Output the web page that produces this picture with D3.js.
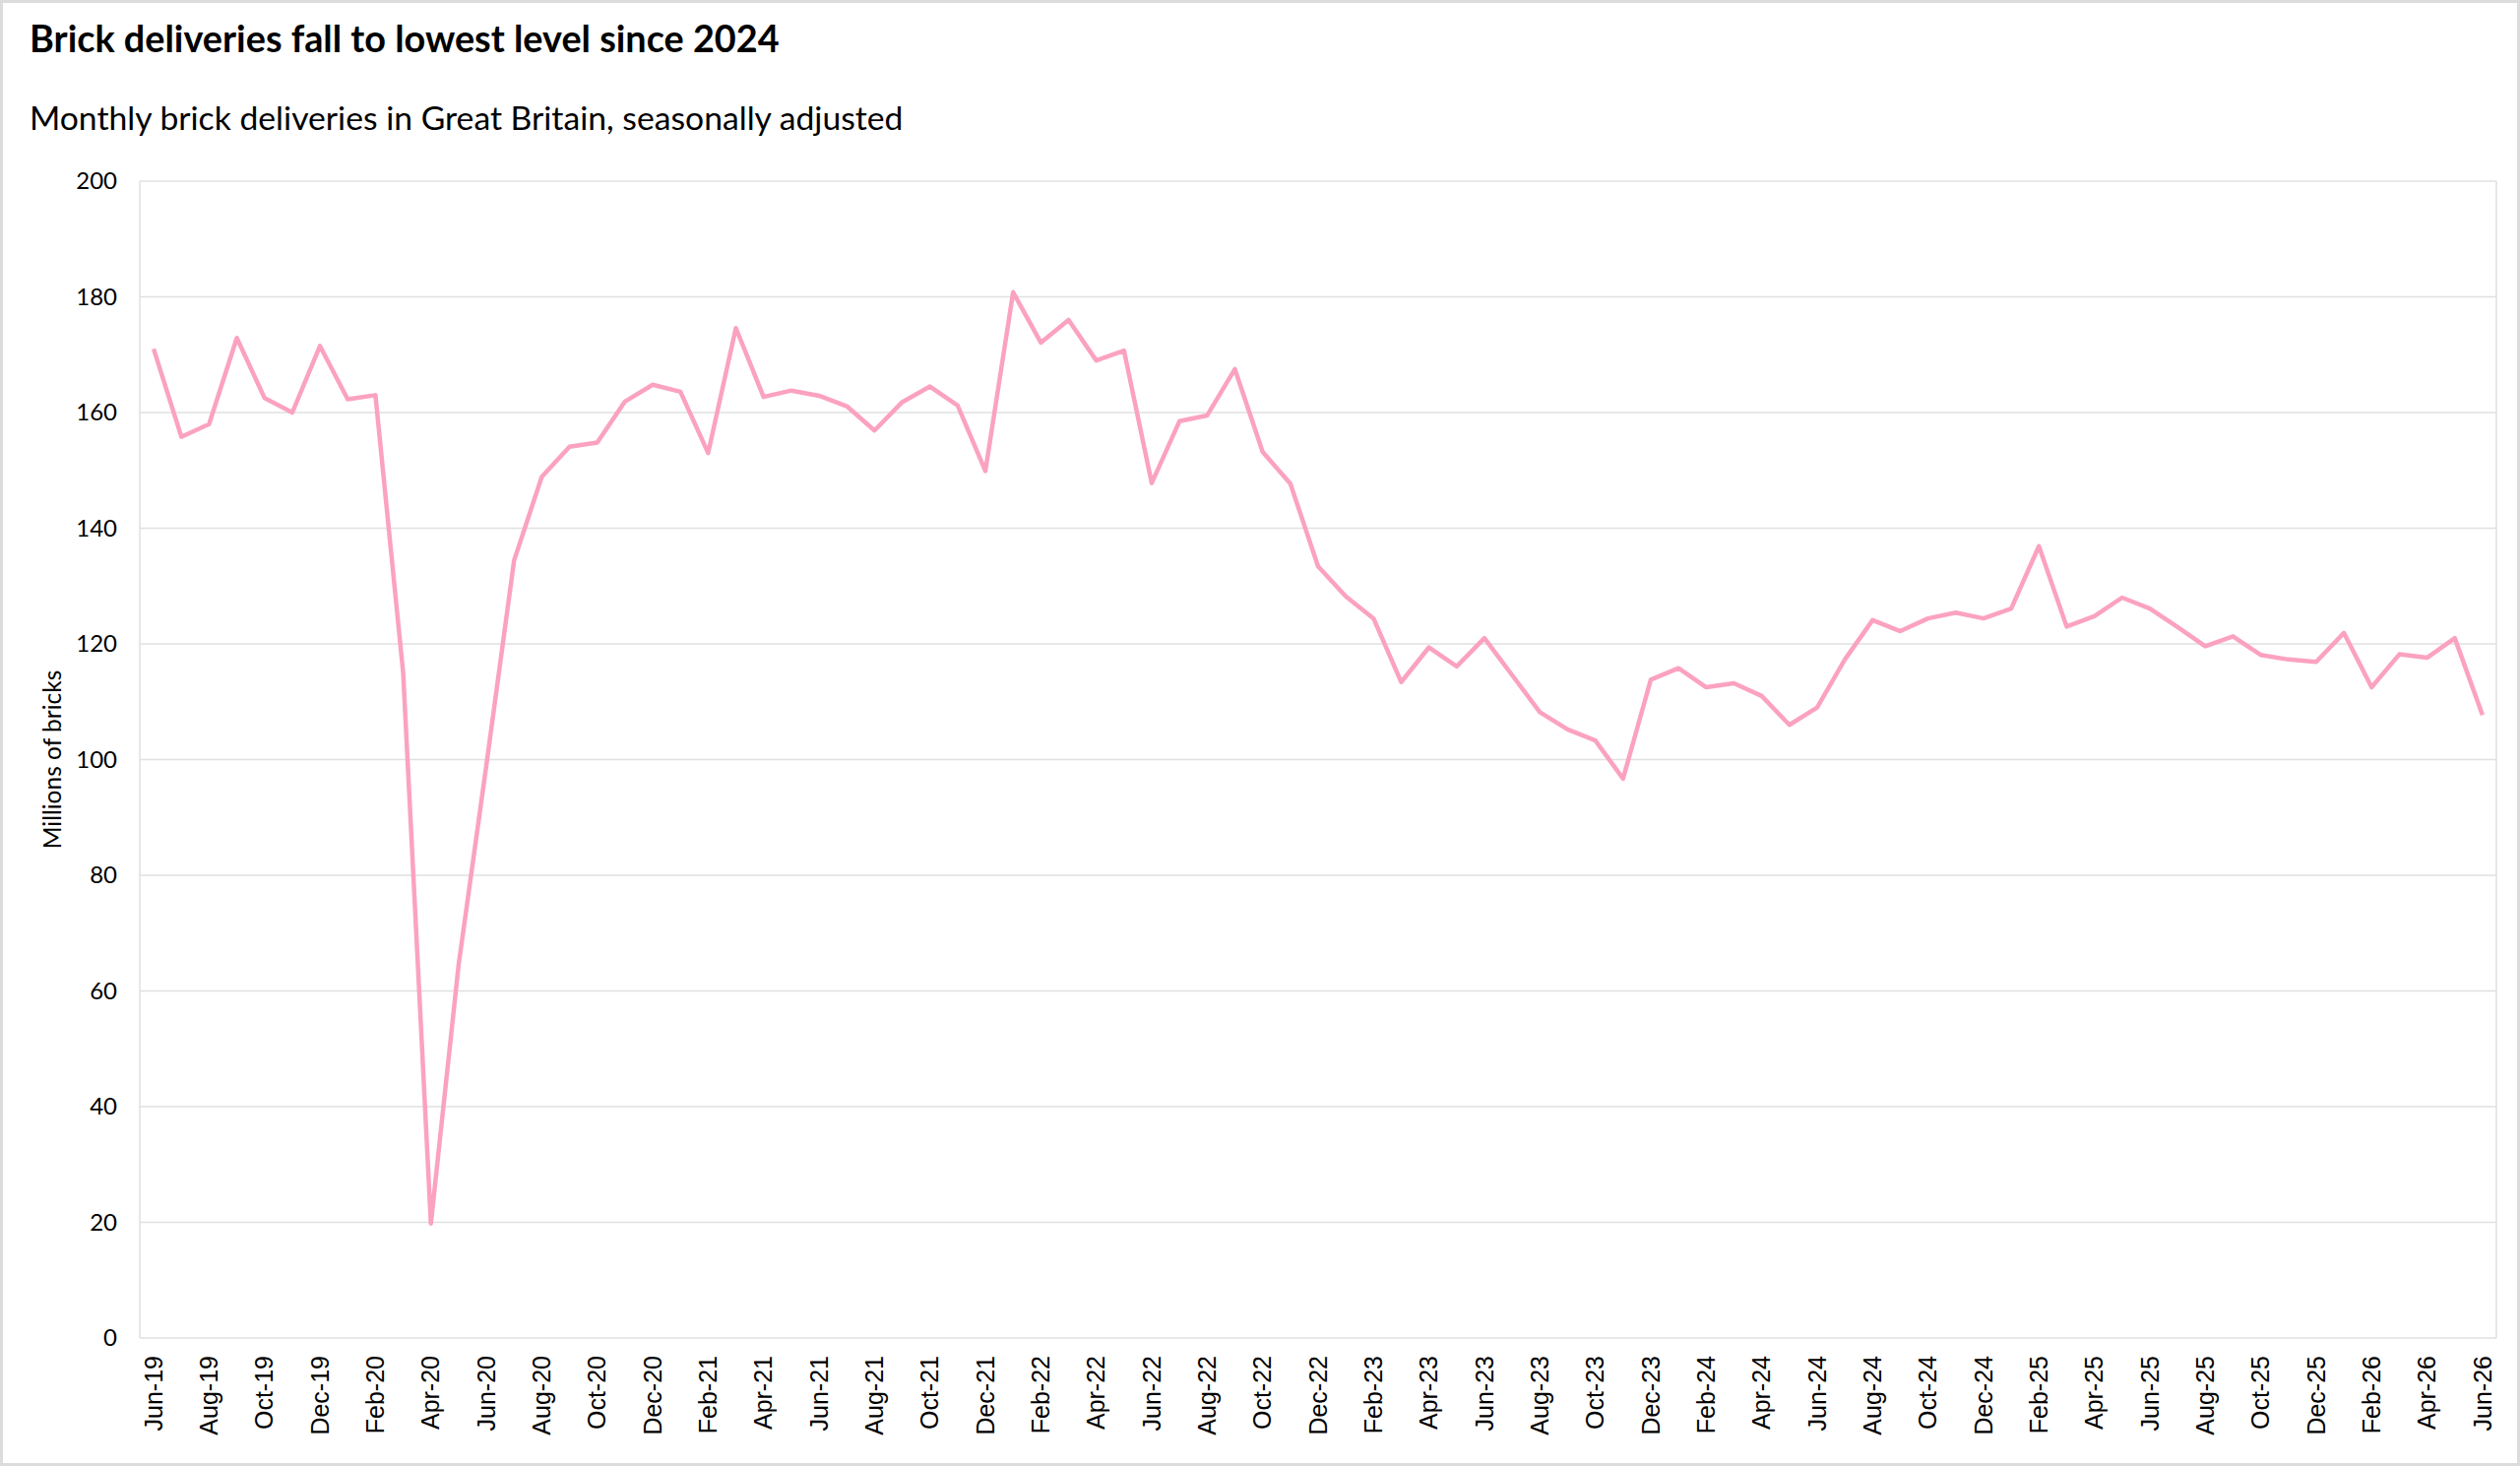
<html lang="en">
	<head>
		<meta charset="UTF-8">
		<title>Brick deliveries</title>
		<style>
			body {
				margin: 0;
				background: #ffffff;
			}
			.grid line {
				stroke: #e0e0e0;
				stroke-width: 1.5px;
			}
			.x-axis text {
				font-family: 'Liberation Sans', Arial, sans-serif;
				font-size: 25px;
				fill: #000;
			}
			.y-axis text {
				font-family: Lato, sans-serif;
				font-size: 24px;
				fill: #000;
			}
		</style>
	</head>
	<body>
		<div id="chart"></div>
	<script src="https://d3js.org/d3.v7.min.js" charset="utf-8"></script>
	<script>
	const TITLE = "Brick deliveries fall to lowest level since 2024";
	const SUBTITLE = "Monthly brick deliveries in Great Britain, seasonally adjusted";
	const Y_LABEL = "Millions of bricks";

	const months = [
		"Jun-19","Jul-19","Aug-19","Sep-19","Oct-19","Nov-19","Dec-19",
		"Jan-20","Feb-20","Mar-20","Apr-20","May-20","Jun-20","Jul-20","Aug-20","Sep-20","Oct-20","Nov-20","Dec-20",
		"Jan-21","Feb-21","Mar-21","Apr-21","May-21","Jun-21","Jul-21","Aug-21","Sep-21","Oct-21","Nov-21","Dec-21",
		"Jan-22","Feb-22","Mar-22","Apr-22","May-22","Jun-22","Jul-22","Aug-22","Sep-22","Oct-22","Nov-22","Dec-22",
		"Jan-23","Feb-23","Mar-23","Apr-23","May-23","Jun-23","Jul-23","Aug-23","Sep-23","Oct-23","Nov-23","Dec-23",
		"Jan-24","Feb-24","Mar-24","Apr-24","May-24","Jun-24","Jul-24","Aug-24","Sep-24","Oct-24","Nov-24","Dec-24",
		"Jan-25","Feb-25","Mar-25","Apr-25","May-25","Jun-25","Jul-25","Aug-25","Sep-25","Oct-25","Nov-25","Dec-25",
		"Jan-26","Feb-26","Mar-26","Apr-26","May-26","Jun-26"
	];

	// millions of bricks
	const deliveries = [
		171.0, 155.8, 158.0, 172.9, 162.5, 160.0, 171.5,
		162.3, 163.0, 115.0, 19.8, 64.5, 99.0, 134.4, 148.9, 154.1, 154.8, 161.9, 164.8,
		163.6, 153.0, 174.6, 162.7, 163.8, 162.9, 161.1, 156.9, 161.8, 164.5, 161.2, 149.9,
		180.8, 172.1, 176.0, 169.0, 170.7, 147.8, 158.5, 159.5, 167.5, 153.2, 147.7, 133.4,
		128.2, 124.4, 113.4, 119.4, 116.1, 121.0, 114.6, 108.2, 105.2, 103.3, 96.7, 113.8,
		115.8, 112.5, 113.2, 111.0, 106.0, 109.0, 117.3, 124.1, 122.2, 124.4, 125.4, 124.4,
		126.1, 136.9, 123.0, 124.8, 128.0, 126.1, 122.9, 119.6, 121.3, 118.1, 117.3, 116.9,
		121.9, 112.5, 118.2, 117.6, 121.0, 107.7
	];

	const yTicks = [0, 20, 40, 60, 80, 100, 120, 140, 160, 180, 200];
	// every second month gets a label
	const xTickLabels = months.filter((m, i) => i % 2 === 0);

	var W = 2560, H = 1489;
	var margin = {top: 184, right: 24, bottom: 130, left: 142},
		width = W - margin.left - margin.right,
		height = H - margin.top - margin.bottom;

	var root = d3.select("#chart")
		.append("svg")
		.attr("width", W)
		.attr("height", H);

	// outer frame
	root.append("rect")
		.attr("x", 1.5).attr("y", 1.5)
		.attr("width", W - 3).attr("height", H - 3)
		.attr("fill", "#fff")
		.attr("stroke", "#dcdcdc")
		.attr("stroke-width", 3);

	root.append("text")
		.attr("x", 30).attr("y", 53)
		.style("font-family", "Lato, sans-serif")
		.style("font-weight", "700")
		.style("font-size", "37.8px")
		.text(TITLE);

	root.append("text")
		.attr("x", 30).attr("y", 132)
		.style("font-family", "Lato, sans-serif")
		.style("font-size", "33.7px")
		.text(SUBTITLE);

	var svg = root.append("g")
		.attr("transform", `translate(${margin.left},${margin.top})`);

	const xScale = d3.scaleBand()
		.domain(months)
		.range([0, width]);

	const yScale = d3.scaleLinear()
		.domain([0, 200])
		.range([height, 0]);

	// horizontal gridlines
	svg.append('g')
		.attr('class', 'grid')
		.selectAll('line')
		.data(yTicks)
		.join('line')
		.attr('x1', 0)
		.attr('x2', width)
		.attr('y1', d => yScale(d))
		.attr('y2', d => yScale(d));

	// plot side borders
	svg.append('g')
		.attr('class', 'grid')
		.selectAll('line')
		.data([0, width])
		.join('line')
		.attr('x1', d => d)
		.attr('x2', d => d)
		.attr('y1', yScale(200))
		.attr('y2', yScale(0));

	svg.append('g')
		.attr('class', 'y-axis')
		.call(d3.axisLeft(yScale).tickValues(yTicks).tickSize(0).tickPadding(23))
		.call(g => g.select('.domain').remove());

	svg.append('g')
		.attr('class', 'x-axis')
		.attr('transform', `translate(0, ${height})`)
		.call(d3.axisBottom(xScale).tickValues(xTickLabels).tickSize(0))
		.call(g => g.select('.domain').remove())
		.selectAll('text')
		.attr('transform', 'rotate(-90)')
		.attr('text-anchor', 'end')
		.attr('dy', '0.35em')
		.attr('x', -18)
		.attr('y', 0);

	root.append('text')
		.attr('transform', `translate(62, ${margin.top + height / 2}) rotate(-90)`)
		.attr('text-anchor', 'middle')
		.style('font-family', 'Lato, sans-serif')
		.style('font-size', '24.5px')
		.text(Y_LABEL);

	const line = d3.line()
		.x((d, i) => xScale(months[i]) + xScale.bandwidth() / 2)
		.y(d => yScale(d));

	svg.append('path')
		.datum(deliveries)
		.attr('fill', 'none')
		.attr('stroke', '#fba2c0')
		.attr('stroke-width', 4.5)
		.attr('stroke-linejoin', 'round')
		.attr('d', line);
	</script>
	</body>
</html>
